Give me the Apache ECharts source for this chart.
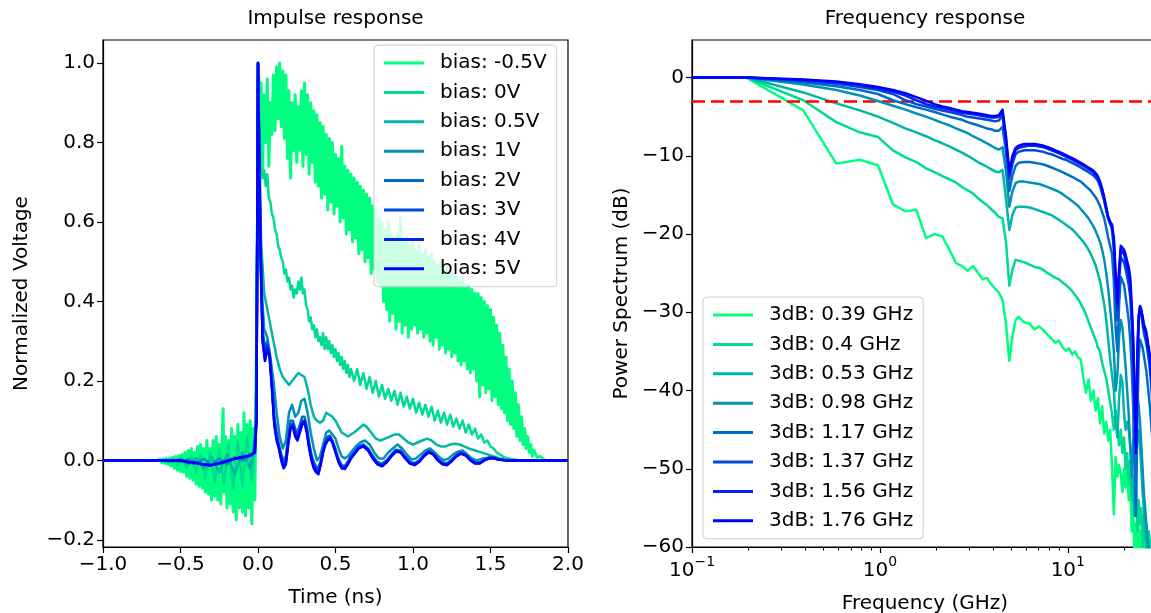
<!DOCTYPE html>
<html><head><meta charset="utf-8">
<script src="https://cdn.jsdelivr.net/npm/echarts@6/dist/echarts.min.js"></script>
<style>html,body{margin:0;padding:0;background:#fff}#c{width:1151px;height:613px}</style>
</head><body><div id="c"></div>
<script>
// ---------------- data ----------------
const panelTitles = ['Impulse response', 'Frequency response'];
const biasLabels = ['bias: -0.5V', 'bias: 0V', 'bias: 0.5V', 'bias: 1V', 'bias: 2V', 'bias: 3V', 'bias: 4V', 'bias: 5V'];
const bwLabels = ['3dB: 0.39 GHz', '3dB: 0.4 GHz', '3dB: 0.53 GHz', '3dB: 0.98 GHz', '3dB: 1.17 GHz', '3dB: 1.37 GHz', '3dB: 1.56 GHz', '3dB: 1.76 GHz'];
const timeTicks = [-1.0, -0.5, 0.0, 0.5, 1.0, 1.5, 2.0];
const voltTicks = [-0.2, 0.0, 0.2, 0.4, 0.6, 0.8, 1.0];
const dbTicks = [-60, -50, -40, -30, -20, -10, 0];
const freqMinorTicks = [0.2, 0.3, 0.4, 0.5, 0.6, 0.7, 0.8, 0.9, 2, 3, 4, 5, 6, 7, 8, 9, 20, 30];
const threshold = -3;

// impulse responses: [time (ns), normalized voltage]
const impM05 = [[-1.0,0],[-0.65,0],[-0.64,-0.004],[-0.63,0.003],[-0.62,-0.006],[-0.61,0.004],[-0.60,-0.008],[-0.59,0.005],[-0.58,-0.01],[-0.57,0.006],[-0.56,-0.014],[-0.55,0.008],[-0.54,-0.02],[-0.53,0.01],[-0.52,-0.025],[-0.51,0.012],[-0.50,-0.028],[-0.49,0.015],[-0.48,-0.03],[-0.47,0.02],[-0.46,-0.04],[-0.45,0.025],[-0.44,-0.045],[-0.43,0.03],[-0.42,-0.05],[-0.41,0.02],[-0.40,-0.06],[-0.39,0.035],[-0.38,-0.065],[-0.37,0.04],[-0.36,-0.07],[-0.35,0.03],[-0.34,-0.08],[-0.33,0.05],[-0.32,-0.085],[-0.31,0.03],[-0.30,-0.1],[-0.29,0.05],[-0.28,-0.09],[-0.27,0.06],[-0.26,-0.1],[-0.25,0.04],[-0.24,-0.11],[-0.23,0.07],[-0.225,0.13],[-0.22,-0.08],[-0.21,0.06],[-0.20,-0.12],[-0.19,0.05],[-0.18,-0.11],[-0.17,0.08],[-0.16,-0.13],[-0.15,0.06],[-0.14,-0.15],[-0.13,0.09],[-0.12,-0.12],[-0.11,0.07],[-0.10,-0.13],[-0.09,0.12],[-0.08,-0.14],[-0.07,0.09],[-0.06,-0.12],[-0.05,0.1],[-0.04,-0.16],[-0.03,0.08],[-0.02,-0.1],[-0.01,0.3],
[0.005,0.97],[0.01,0.80],[0.02,0.95],[0.03,0.73],[0.04,0.92],[0.05,0.80],[0.06,0.96],[0.07,0.74],[0.08,0.90],[0.09,0.82],[0.10,0.97],[0.11,0.83],[0.12,0.99],[0.13,0.86],[0.14,1.0],[0.15,0.84],[0.16,0.98],[0.17,0.81],[0.18,0.97],[0.19,0.76],[0.20,0.93],[0.21,0.71],[0.22,0.90],[0.23,0.78],[0.24,0.92],[0.25,0.75],[0.26,0.89],[0.27,0.78],[0.28,0.93],[0.29,0.74],[0.30,0.95],[0.31,0.77],[0.32,0.92],[0.33,0.72],[0.34,0.90],[0.35,0.75],[0.36,0.88],[0.37,0.70],[0.38,0.87],[0.39,0.69],[0.40,0.85],[0.41,0.66],[0.42,0.84],[0.43,0.67],[0.44,0.82],[0.45,0.63],[0.46,0.81],[0.47,0.65],[0.48,0.80],[0.49,0.62],[0.50,0.77],[0.51,0.64],[0.52,0.76],[0.53,0.60],[0.54,0.79],[0.55,0.61],[0.56,0.74],[0.57,0.57],[0.58,0.73],[0.59,0.58],[0.60,0.72],[0.61,0.55],[0.62,0.71],[0.63,0.56],[0.64,0.70],[0.65,0.52],[0.66,0.69],[0.67,0.53],[0.68,0.68],[0.69,0.50],[0.70,0.67],[0.71,0.51],[0.72,0.66],[0.73,0.47],[0.74,0.64],[0.75,0.48],[0.76,0.63],[0.77,0.45],[0.78,0.61],[0.79,0.44],[0.80,0.60],[0.81,0.40],[0.82,0.58],[0.83,0.38],[0.84,0.60],[0.85,0.35],[0.86,0.57],[0.87,0.37],[0.88,0.56],[0.89,0.33],[0.90,0.57],[0.91,0.35],[0.92,0.61],[0.93,0.32],[0.94,0.55],[0.95,0.34],[0.96,0.56],[0.97,0.31],[0.98,0.54],[0.99,0.33],[1.00,0.55],[1.01,0.34],[1.02,0.53],[1.03,0.32],[1.04,0.54],[1.05,0.33],[1.06,0.52],[1.07,0.31],[1.08,0.53],[1.09,0.32],[1.10,0.51],[1.11,0.30],[1.12,0.52],[1.13,0.29],[1.14,0.50],[1.15,0.31],[1.16,0.49],[1.17,0.28],[1.18,0.50],[1.19,0.29],[1.20,0.48],[1.21,0.27],[1.22,0.49],[1.23,0.28],[1.24,0.47],[1.25,0.26],[1.26,0.47],[1.27,0.27],[1.28,0.46],[1.29,0.25],[1.30,0.45],[1.31,0.24],[1.32,0.46],[1.33,0.25],[1.34,0.44],[1.35,0.23],[1.36,0.44],[1.37,0.22],[1.38,0.43],[1.39,0.23],[1.40,0.42],[1.41,0.20],[1.42,0.42],[1.43,0.16],[1.44,0.41],[1.45,0.19],[1.46,0.40],[1.47,0.17],[1.48,0.39],[1.49,0.18],[1.50,0.38],[1.51,0.15],[1.52,0.36],[1.53,0.16],[1.54,0.34],[1.55,0.14],[1.56,0.32],[1.57,0.13],[1.58,0.29],[1.59,0.12],[1.60,0.26],[1.61,0.10],[1.62,0.23],[1.63,0.09],[1.64,0.20],[1.65,0.08],[1.66,0.17],[1.67,0.06],[1.68,0.14],[1.69,0.05],[1.70,0.11],[1.71,0.04],[1.72,0.08],[1.73,0.03],[1.74,0.06],[1.75,0.02],[1.76,0.04],[1.77,0.01],[1.78,0.025],[1.80,0.008],[1.82,0.01],[1.85,0.0],[2.0,0.0]];
const imp0 = [[-1.0,0],[-0.62,0],[-0.58,-0.005],[-0.55,0.005],[-0.52,-0.012],[-0.49,0.006],[-0.46,-0.02],[-0.43,0.01],[-0.40,-0.03],[-0.37,0.015],[-0.34,-0.045],[-0.31,0.02],[-0.28,-0.055],[-0.25,0.03],[-0.22,-0.06],[-0.19,0.04],[-0.16,-0.07],[-0.13,0.05],[-0.10,-0.065],[-0.07,0.06],[-0.04,-0.05],[-0.02,0.04],[-0.01,0.2],[0.0,1.0],[0.01,0.82],[0.02,0.74],[0.03,0.71],[0.04,0.73],[0.05,0.69],[0.06,0.72],[0.07,0.66],[0.08,0.65],[0.09,0.62],[0.10,0.61],[0.11,0.58],[0.12,0.57],[0.13,0.54],[0.14,0.53],[0.15,0.51],[0.16,0.50],[0.17,0.47],[0.18,0.48],[0.19,0.45],[0.20,0.46],[0.21,0.43],[0.22,0.44],[0.23,0.41],[0.24,0.43],[0.25,0.42],[0.26,0.45],[0.27,0.43],[0.28,0.46],[0.29,0.42],[0.30,0.43],[0.31,0.39],[0.32,0.38],[0.33,0.35],[0.34,0.36],[0.35,0.33],[0.36,0.34],[0.37,0.31],[0.38,0.33],[0.39,0.30],[0.40,0.31],[0.41,0.29],[0.42,0.32],[0.43,0.28],[0.44,0.31],[0.45,0.28],[0.46,0.30],[0.47,0.27],[0.48,0.29],[0.49,0.26],[0.50,0.28],[0.51,0.25],[0.52,0.27],[0.53,0.24],[0.54,0.26],[0.55,0.23],[0.56,0.25],[0.57,0.22],[0.58,0.24],[0.59,0.21],[0.60,0.23],[0.62,0.20],[0.64,0.23],[0.66,0.19],[0.68,0.22],[0.70,0.18],[0.72,0.21],[0.74,0.17],[0.76,0.20],[0.78,0.16],[0.80,0.19],[0.82,0.155],[0.84,0.18],[0.86,0.15],[0.88,0.175],[0.90,0.14],[0.92,0.17],[0.94,0.135],[0.96,0.16],[0.98,0.13],[1.0,0.155],[1.02,0.12],[1.04,0.145],[1.06,0.115],[1.08,0.14],[1.10,0.11],[1.12,0.135],[1.14,0.10],[1.16,0.125],[1.18,0.095],[1.20,0.12],[1.22,0.09],[1.24,0.115],[1.26,0.085],[1.28,0.105],[1.30,0.08],[1.32,0.10],[1.34,0.07],[1.36,0.09],[1.38,0.065],[1.40,0.08],[1.42,0.055],[1.44,0.065],[1.46,0.045],[1.48,0.05],[1.50,0.035],[1.52,0.03],[1.54,0.02],[1.56,0.015],[1.58,0.01],[1.60,0.006],[1.65,0.002],[1.7,0],[2.0,0]];
const imp05 = [[-1,0],[-0.6,0],[-0.55,-0.004],[-0.5,0.004],[-0.45,-0.01],[-0.4,0.006],[-0.35,-0.02],[-0.3,0.01],[-0.25,-0.03],[-0.2,0.015],[-0.15,-0.035],[-0.1,0.02],[-0.05,-0.02],[-0.02,0.03],[-0.01,0.2],[0.0,1.0],[0.02,0.55],[0.04,0.42],[0.06,0.38],[0.08,0.34],[0.10,0.30],[0.12,0.26],[0.14,0.23],[0.16,0.21],[0.18,0.20],[0.20,0.19],[0.22,0.2],[0.24,0.21],[0.26,0.22],[0.28,0.215],[0.30,0.21],[0.32,0.18],[0.34,0.14],[0.36,0.11],[0.38,0.10],[0.40,0.095],[0.42,0.10],[0.44,0.12],[0.46,0.115],[0.48,0.11],[0.50,0.10],[0.52,0.085],[0.54,0.07],[0.56,0.065],[0.58,0.06],[0.60,0.065],[0.62,0.07],[0.65,0.08],[0.68,0.09],[0.70,0.085],[0.73,0.07],[0.76,0.055],[0.79,0.05],[0.82,0.055],[0.85,0.06],[0.88,0.065],[0.91,0.065],[0.94,0.055],[0.97,0.045],[1.0,0.04],[1.03,0.045],[1.06,0.05],[1.09,0.055],[1.12,0.05],[1.15,0.04],[1.18,0.035],[1.21,0.035],[1.24,0.04],[1.27,0.042],[1.30,0.04],[1.33,0.035],[1.36,0.03],[1.40,0.025],[1.44,0.02],[1.48,0.015],[1.52,0.01],[1.56,0.005],[1.6,0.002],[1.65,0],[2.0,0]];
const imp1 = [[-1,0],[-0.55,0],[-0.5,-0.003],[-0.45,0.003],[-0.4,-0.008],[-0.35,0.004],[-0.3,-0.012],[-0.25,0.005],[-0.2,-0.01],[-0.15,0.008],[-0.1,0.0],[-0.05,0.012],[-0.02,0.02],[-0.01,0.15],[0.0,1.0],[0.02,0.45],[0.04,0.33],[0.06,0.31],[0.08,0.26],[0.10,0.2],[0.12,0.12],[0.14,0.06],[0.16,0.03],[0.18,0.05],[0.20,0.12],[0.22,0.14],[0.24,0.11],[0.26,0.12],[0.28,0.15],[0.30,0.155],[0.32,0.12],[0.34,0.07],[0.36,0.03],[0.38,0.0],[0.40,0.01],[0.42,0.04],[0.44,0.07],[0.46,0.075],[0.48,0.065],[0.50,0.055],[0.52,0.03],[0.54,0.01],[0.56,0.005],[0.58,0.01],[0.60,0.02],[0.63,0.035],[0.66,0.045],[0.69,0.05],[0.72,0.04],[0.75,0.02],[0.78,0.005],[0.81,0.005],[0.84,0.02],[0.87,0.03],[0.90,0.04],[0.93,0.03],[0.96,0.015],[0.99,0.002],[1.02,0.005],[1.05,0.015],[1.08,0.025],[1.11,0.03],[1.14,0.02],[1.17,0.008],[1.2,0.0],[1.23,0.005],[1.26,0.015],[1.29,0.022],[1.32,0.025],[1.35,0.015],[1.38,0.005],[1.41,0.0],[1.45,0.005],[1.5,0.008],[1.55,0.003],[1.6,0],[2.0,0]];
const imp2 = [[-1,0],[-0.52,0],[-0.47,-0.004],[-0.42,-0.007],[-0.37,-0.01],[-0.32,-0.013],[-0.27,-0.009],[-0.22,-0.003],[-0.17,0.003],[-0.12,0.007],[-0.07,0.011],[-0.03,0.018],[-0.01,0.1],[0.0,1.0],[0.015,0.58],[0.03,0.33],[0.045,0.28],[0.06,0.3],[0.075,0.27],[0.09,0.2],[0.105,0.11],[0.12,0.07],[0.135,0.04],[0.15,0.015],[0.165,0.0],[0.18,0.01],[0.195,0.06],[0.21,0.1],[0.225,0.1],[0.24,0.08],[0.255,0.07],[0.27,0.09],[0.285,0.11],[0.30,0.11],[0.315,0.085],[0.33,0.045],[0.345,0.015],[0.36,-0.005],[0.375,-0.015],[0.39,-0.02],[0.405,0.0],[0.42,0.03],[0.435,0.05],[0.45,0.06],[0.465,0.062],[0.48,0.05],[0.50,0.028],[0.52,0.003],[0.54,-0.012],[0.56,-0.014],[0.58,-0.003],[0.60,0.012],[0.62,0.022],[0.65,0.036],[0.68,0.04],[0.71,0.03],[0.74,0.012],[0.77,-0.004],[0.80,-0.008],[0.83,0.0],[0.86,0.015],[0.89,0.027],[0.92,0.025],[0.95,0.01],[0.98,-0.003],[1.01,-0.007],[1.04,0.0],[1.07,0.014],[1.10,0.024],[1.13,0.02],[1.16,0.005],[1.19,-0.005],[1.22,-0.007],[1.25,0.002],[1.28,0.014],[1.31,0.021],[1.34,0.016],[1.37,0.004],[1.40,-0.004],[1.43,-0.005],[1.46,0.002],[1.49,0.007],[1.52,0.008],[1.55,0.003],[1.6,0],[2.0,0]];
const imp3 = [[-1,0],[-0.51,0],[-0.46,-0.004],[-0.41,-0.006],[-0.36,-0.01],[-0.31,-0.012],[-0.26,-0.008],[-0.21,-0.002],[-0.16,0.003],[-0.11,0.008],[-0.06,0.012],[-0.025,0.019],[-0.01,0.1],[0.0,1.0],[0.015,0.56],[0.03,0.31],[0.045,0.26],[0.06,0.29],[0.075,0.265],[0.09,0.19],[0.105,0.1],[0.12,0.06],[0.135,0.035],[0.15,0.008],[0.165,-0.01],[0.18,0.0],[0.195,0.05],[0.21,0.09],[0.225,0.092],[0.24,0.07],[0.255,0.06],[0.27,0.08],[0.285,0.1],[0.30,0.1],[0.315,0.078],[0.33,0.038],[0.345,0.008],[0.36,-0.012],[0.375,-0.022],[0.39,-0.027],[0.405,-0.005],[0.42,0.025],[0.435,0.045],[0.45,0.055],[0.465,0.058],[0.48,0.048],[0.50,0.024],[0.52,-0.001],[0.54,-0.016],[0.56,-0.018],[0.58,-0.006],[0.60,0.008],[0.62,0.018],[0.65,0.033],[0.68,0.038],[0.71,0.028],[0.74,0.008],[0.77,-0.007],[0.80,-0.012],[0.83,-0.003],[0.86,0.012],[0.89,0.024],[0.92,0.022],[0.95,0.007],[0.98,-0.006],[1.01,-0.01],[1.04,-0.002],[1.07,0.012],[1.10,0.022],[1.13,0.017],[1.16,0.002],[1.19,-0.008],[1.22,-0.01],[1.25,0.0],[1.28,0.012],[1.31,0.019],[1.34,0.014],[1.37,0.002],[1.40,-0.006],[1.43,-0.007],[1.46,0.001],[1.49,0.006],[1.52,0.007],[1.55,0.002],[1.6,0],[2.0,0]];
const imp4 = [[-1,0],[-0.5,0],[-0.45,-0.004],[-0.4,-0.006],[-0.35,-0.011],[-0.3,-0.012],[-0.25,-0.008],[-0.2,-0.002],[-0.15,0.004],[-0.1,0.008],[-0.05,0.012],[-0.02,0.02],[-0.01,0.1],[0.0,1.0],[0.015,0.55],[0.03,0.3],[0.045,0.255],[0.06,0.285],[0.075,0.262],[0.09,0.185],[0.105,0.095],[0.12,0.055],[0.135,0.032],[0.15,0.004],[0.165,-0.015],[0.18,-0.005],[0.195,0.045],[0.21,0.085],[0.225,0.088],[0.24,0.065],[0.255,0.055],[0.27,0.075],[0.285,0.095],[0.30,0.097],[0.315,0.074],[0.33,0.034],[0.345,0.004],[0.36,-0.016],[0.375,-0.026],[0.39,-0.031],[0.405,-0.008],[0.42,0.022],[0.435,0.042],[0.45,0.052],[0.465,0.056],[0.48,0.046],[0.50,0.022],[0.52,-0.003],[0.54,-0.018],[0.56,-0.02],[0.58,-0.008],[0.60,0.006],[0.62,0.016],[0.65,0.031],[0.68,0.036],[0.71,0.026],[0.74,0.006],[0.77,-0.009],[0.80,-0.014],[0.83,-0.004],[0.86,0.011],[0.89,0.023],[0.92,0.021],[0.95,0.006],[0.98,-0.007],[1.01,-0.011],[1.04,-0.003],[1.07,0.011],[1.10,0.021],[1.13,0.016],[1.16,0.001],[1.19,-0.009],[1.22,-0.011],[1.25,-0.001],[1.28,0.011],[1.31,0.018],[1.34,0.013],[1.37,0.001],[1.40,-0.007],[1.43,-0.007],[1.46,0.0],[1.49,0.005],[1.52,0.006],[1.55,0.002],[1.6,0],[2.0,0]];
const imp5 = [[-1,0],[-0.5,0],[-0.45,-0.004],[-0.4,-0.006],[-0.35,-0.01],[-0.3,-0.012],[-0.25,-0.008],[-0.2,-0.002],[-0.15,0.004],[-0.1,0.008],[-0.05,0.012],[-0.02,0.02],[-0.01,0.1],[0.0,1.0],[0.015,0.55],[0.03,0.3],[0.045,0.25],[0.06,0.28],[0.075,0.26],[0.09,0.18],[0.105,0.09],[0.12,0.05],[0.135,0.03],[0.15,0.0],[0.165,-0.02],[0.18,-0.01],[0.195,0.04],[0.21,0.08],[0.225,0.085],[0.24,0.06],[0.255,0.05],[0.27,0.07],[0.285,0.09],[0.30,0.095],[0.315,0.07],[0.33,0.03],[0.345,0.0],[0.36,-0.02],[0.375,-0.03],[0.39,-0.035],[0.405,-0.01],[0.42,0.02],[0.435,0.04],[0.45,0.05],[0.465,0.055],[0.48,0.045],[0.50,0.02],[0.52,-0.005],[0.54,-0.02],[0.56,-0.022],[0.58,-0.01],[0.60,0.005],[0.62,0.015],[0.65,0.03],[0.68,0.035],[0.71,0.025],[0.74,0.005],[0.77,-0.01],[0.80,-0.015],[0.83,-0.005],[0.86,0.01],[0.89,0.022],[0.92,0.02],[0.95,0.005],[0.98,-0.008],[1.01,-0.012],[1.04,-0.004],[1.07,0.01],[1.10,0.02],[1.13,0.015],[1.16,0.0],[1.19,-0.01],[1.22,-0.012],[1.25,-0.002],[1.28,0.01],[1.31,0.017],[1.34,0.012],[1.37,0.0],[1.40,-0.008],[1.43,-0.008],[1.46,0.0],[1.49,0.005],[1.52,0.006],[1.55,0.002],[1.6,0],[2.0,0]];

// frequency responses (dB) on a shared frequency grid (GHz)
const freqGHz = [0.1,0.195,0.391,0.586,0.781,0.977,1.172,1.367,1.563,1.758,1.953,2.148,2.344,2.539,2.734,2.93,3.125,3.32,3.516,3.711,3.906,4.102,4.297,4.492,4.688,4.883,5.078,5.273,5.469,5.859,6.25,6.641,7.031,7.422,7.813,8.203,8.594,8.984,9.375,9.766,10.16,10.55,10.94,11.33,11.72,12.11,12.5,12.89,13.28,13.67,14.06,14.45,14.84,15.23,15.63,16.02,16.41,16.8,17.19,17.58,17.97,18.36,18.75,19.14,19.53,19.92,20.31,20.7,21.09,21.48,21.88,22.27,22.66,23.05,23.44,23.83,24.22,24.61,25.0,25.39,25.78,26.17,26.56,26.95,27.34,27.73,28.13,28.52,28.91,29.3,29.69,30.08];
const db039 = [0,0,-4.2,-11.0,-10.5,-11.2,-16.2,-17.1,-16.9,-20.5, -20.0,-20.3,-22.0,-23.7,-24.1,-24.7,-24.1,-24.9,-25.8,-25.6, -26.4,-27.0,-27.5,-28.4,-31.5,-36.2,-33.0,-31.0,-30.6,-31.3, -31.4,-32.2,-31.8,-32.3,-32.9,-33.4,-33.9,-33.6,-34.5,-34.9, -34.6,-35.4,-35.0,-35.8,-36.0,-38.5,-40.3,-38.6,-41.3,-40.0, -42.6,-41.0,-44.2,-42.0,-45.5,-44.0,-46.4,-45.0,-49.8,-55.8, -48.5,-51.0,-49.5,-50.7,-53.0,-50.0,-52.4,-49.5,-54.0,-51.0, -58.0,-55.0,-62,-57.0,-61,-56,-63,-58,-60.5,-57, -62,-59,-64,-58,-61,-63,-59,-62,-65,-60,-63,-62];
const db040 = [0,0,-2.9,-5.7,-7.0,-7.6,-9.3,-10.2,-10.8,-11.6, -12.1,-12.6,-13.0,-13.4,-14.0,-14.4,-14.8,-15.4,-15.9,-16.3, -16.8,-17.3,-17.8,-18.0,-21.0,-26.6,-24.5,-23.3,-23.4,-23.6, -23.9,-24.2,-24.3,-24.6,-25.0,-25.3,-25.6,-25.8,-26.2,-26.5, -26.9,-27.3,-27.8,-28.3,-28.9,-29.6,-30.3,-31.2,-32.0,-32.8, -33.5,-34.5,-35.0,-36.5,-37.5,-38.5,-40.0,-41.5,-43.0,-45.0, -42.5,-44.5,-47,-45,-48,-46,-50,-48,-52,-49, -54,-51,-56,-52,-58,-54,-57,-55,-60,-56, -59,-57,-61,-58,-60,-62,-58,-61,-60,-63,-59,-61];
const db053 = [0,0,-1.9,-3.3,-4.2,-5.0,-5.8,-6.5,-7.0,-7.5, -8.0,-8.4,-8.8,-9.2,-9.6,-10.0,-10.4,-10.8,-11.1,-11.4, -11.7,-12.0,-12.1,-11.8,-15.5,-19.5,-17.5,-16.6,-16.5,-16.5, -16.6,-16.8,-17.0,-17.2,-17.4,-17.6,-17.9,-18.2,-18.5,-18.8, -19.1,-19.4,-19.8,-20.2,-20.6,-21.0,-21.5,-22.0,-22.6,-23.3, -24.0,-25.0,-26.0,-27.5,-29.0,-31.0,-33.5,-36.0,-38.0,-40.0, -44,-46,-41,-38,-39,-43,-45,-44,-45,-47, -50,-54,-56,-50,-46,-45,-47,-50,-53,-55, -58,-60,-62,-60,-61,-63,-62,-64,-63,-65,-64,-66];
const db098 = [0,0,-0.9,-1.6,-2.3,-3.0,-3.6,-4.1,-4.6,-5.0, -5.4,-5.8,-6.1,-6.5,-6.8,-7.1,-7.5,-7.8,-8.1,-8.4, -8.7,-9.0,-9.2,-8.9,-12.0,-16.5,-14.5,-13.5,-13.3,-13.3, -13.4,-13.5,-13.6,-13.8,-14.0,-14.2,-14.4,-14.6,-14.9,-15.2, -15.5,-15.8,-16.1,-16.4,-16.8,-17.2,-17.6,-18.0,-18.5,-19.0, -19.6,-20.3,-21.0,-22.0,-23.3,-25.0,-27.0,-29.5,-32.0,-35.0, -40,-38,-33,-31,-32,-34.5,-37,-40,-43,-47, -51,-47,-42,-40,-40.5,-42,-44,-47,-50,-53, -55,-57,-59,-60,-61,-62,-63,-64,-64,-65,-66,-66];
const db117 = [0,0,-0.6,-1.1,-1.6,-2.1,-2.9,-3.4,-3.8,-4.1, -4.4,-4.7,-5.0,-5.2,-5.4,-5.7,-5.9,-6.1,-6.3,-6.5, -6.6,-6.8,-6.8,-6.3,-9.5,-14.5,-12.5,-11.3,-10.9,-10.8, -10.8,-10.9,-11.0,-11.1,-11.3,-11.5,-11.7,-11.9,-12.1,-12.3, -12.5,-12.7,-12.9,-13.1,-13.3,-13.6,-13.9,-14.2,-14.5,-14.9, -15.3,-15.8,-16.4,-17.2,-18.0,-19.2,-20.5,-21.5,-22.5,-26, -32,-35,-29,-25.5,-25.5,-26.5,-28,-29.5,-31,-33.5, -37,-42,-50,-56,-44,-36,-33.5,-33.5,-34.5,-35.5, -36.5,-37.5,-39,-40.5,-42,-44,-46,-48,-50,-52,-54,-56];
const db137 = [0,0,-0.4,-0.8,-1.2,-1.6,-2.1,-2.9,-3.4,-3.7, -4.0,-4.2,-4.4,-4.6,-4.8,-5.0,-5.1,-5.2,-5.3,-5.4, -5.5,-5.6,-5.5,-4.8,-8.5,-13.0,-11.0,-9.8,-9.5,-9.3, -9.3,-9.3,-9.4,-9.5,-9.7,-9.8,-10.0,-10.2,-10.4,-10.5, -10.7,-10.9,-11.1,-11.3,-11.5,-11.7,-11.9,-12.1,-12.3,-12.5, -12.8,-13.2,-13.9,-14.8,-15.8,-17.0,-18.0,-18.7,-19.4,-22.0, -27.5,-31,-26,-23,-23,-23.6,-24.5,-25.5,-26.5,-28, -31.5,-36,-43,-46,-35,-30.5,-29.6,-30.2,-31.5,-32.6, -33.3,-34,-35,-36,-37.3,-39,-41,-43,-45,-47,-49,-51];
const db156 = [0,0,-0.3,-0.6,-1.0,-1.4,-1.8,-2.3,-2.9,-3.4, -3.7,-3.9,-4.1,-4.3,-4.5,-4.6,-4.7,-4.8,-4.9,-5.0, -5.1,-5.1,-5.0,-4.4,-8.0,-12.5,-10.5,-9.3,-9.0,-8.8, -8.7,-8.7,-8.8,-8.9,-9.1,-9.3,-9.5,-9.7,-9.9,-10.1, -10.3,-10.5,-10.7,-10.9,-11.1,-11.3,-11.5,-11.7,-11.9,-12.1, -12.4,-12.8,-13.5,-14.4,-15.5,-16.8,-18.0,-18.6,-19.0,-21.0, -26,-29.5,-25,-22,-22,-22.6,-23.4,-24.3,-25.2,-26.6, -30,-34,-41,-47,-36,-30.5,-29.2,-29.6,-30.8,-31.8, -32.4,-33,-34,-35,-36.2,-37.8,-39.8,-41.8,-43.8,-45.8,-47.8,-49.8];
const db176 = [0,0,-0.25,-0.5,-0.85,-1.2,-1.6,-2.0,-2.5,-2.95, -3.4,-3.7,-3.9,-4.1,-4.3,-4.4,-4.5,-4.6,-4.7,-4.8, -4.9,-4.9,-4.8,-4.1,-7.5,-12.0,-10.0,-9.0,-8.7,-8.5, -8.5,-8.5,-8.6,-8.7,-8.9,-9.1,-9.3,-9.5,-9.7,-9.9, -10.1,-10.3,-10.5,-10.7,-10.9,-11.1,-11.3,-11.5,-11.7,-11.9, -12.2,-12.6,-13.3,-14.2,-15.3,-16.6,-17.8,-18.4,-18.8,-20.5, -25,-28.8,-24.5,-21.5,-21.5,-22,-22.7,-23.5,-24.2,-25.5, -29,-33,-40,-48,-37,-31,-29.3,-29.5,-30.5,-31.5, -32,-32.5,-33.5,-34.5,-35.5,-37,-39,-41,-43,-45,-47,-49];

const impulseSeries = [impM05, imp0, imp05, imp1, imp2, imp3, imp4, imp5];
const spectrumSeries = [db039, db040, db053, db098, db117, db137, db156, db176];

// ---------------- style ----------------
const colors = ['#00ff80', '#00db92', '#00b6a4', '#0092b6', '#006dc8', '#0049db', '#0024ed', '#0000ff'];
const FONT = 'DejaVu Sans';
const FS = 20;
const minus = s => s.replace('-', '\u2212');
const fmt1 = v => minus((Math.abs(v) < 1e-9 ? 0 : v).toFixed(1));
const fmt0 = v => minus(String(Math.round(v)));
const logFmt = v => {
  const e = Math.log10(v), r = Math.round(e);
  if (Math.abs(e - r) > 1e-6) return '';
  return '{b|10}{s|' + (r < 0 ? '\u2212' : '') + Math.abs(r) + '}';
};
const axisCommon = {
  axisLine: { show: true, onZero: false, lineStyle: { color: '#000', width: 1.2 } },
  axisTick: { show: true, length: 6, lineStyle: { color: '#000', width: 1.2 } },
  splitLine: { show: false },
  nameTextStyle: { color: '#000', fontSize: FS, fontFamily: FONT },
};
const legendCommon = {
  orient: 'vertical', icon: 'rect', itemWidth: 40, itemHeight: 3, itemGap: 9.4,
  padding: [8, 10, 8, 10], backgroundColor: 'rgba(255,255,255,0.8)',
  borderColor: '#cccccc', borderWidth: 1, borderRadius: 4, selectedMode: false,
  textStyle: { color: '#000', fontSize: FS, fontFamily: FONT, lineHeight: 20, padding: [0, 0, 0, 11] },
};

const series = [];
impulseSeries.forEach((d, i) => series.push({
  name: biasLabels[i], type: 'line', xAxisIndex: 0, yAxisIndex: 0, data: d,
  showSymbol: false, symbol: 'none', color: colors[i],
  lineStyle: { width: i === 0 ? 3 : 2.5, color: colors[i], join: 'round' },
  emphasis: { disabled: true }, z: 2 + i
}));
spectrumSeries.forEach((d, i) => series.push({
  name: bwLabels[i], type: 'line', xAxisIndex: 1, yAxisIndex: 1,
  data: freqGHz.map((f, k) => [f, d[k]]),
  showSymbol: false, symbol: 'none', color: colors[i], lineStyle: { width: 2.5, color: colors[i], join: 'round' },
  emphasis: { disabled: true }, z: 2 + i,
  markLine: i === spectrumSeries.length - 1 ? {
    silent: true, symbol: 'none', label: { show: false },
    lineStyle: { color: '#ff0000', type: [13, 6], width: 2.5 },
    data: [{ yAxis: threshold }]
  } : undefined
}));

const option = {
  animation: false,
  backgroundColor: '#ffffff',
  textStyle: { fontFamily: FONT },
  graphic: [
    { type: 'text', x: 335.5, y: 19, style: { text: panelTitles[0], font: FS + 'px "' + FONT + '"', fill: '#000', align: 'center', textAlign: 'center', verticalAlign: 'middle', textVerticalAlign: 'middle' } },
    { type: 'text', x: 925, y: 19, style: { text: panelTitles[1], font: FS + 'px "' + FONT + '"', fill: '#000', align: 'center', textAlign: 'center', verticalAlign: 'middle', textVerticalAlign: 'middle' } },
  ],
  grid: [
    { left: 103, top: 40, width: 465, height: 507, show: true, borderColor: '#000', borderWidth: 1.2, backgroundColor: 'transparent', outerBoundsMode: 'none', containLabel: false },
    { left: 692, top: 40, width: 466, height: 507, show: true, borderColor: '#000', borderWidth: 1.2, backgroundColor: 'transparent', outerBoundsMode: 'none', containLabel: false },
  ],
  xAxis: [
    Object.assign({}, axisCommon, {
      gridIndex: 0, type: 'value', min: timeTicks[0], max: timeTicks[timeTicks.length - 1], interval: 0.5,
      axisLabel: { color: '#000', fontSize: FS, fontFamily: FONT, margin: 8, formatter: fmt1 },
      name: 'Time (ns)', nameLocation: 'middle', nameGap: 41,
    }),
    Object.assign({}, axisCommon, {
      gridIndex: 1, type: 'log', logBase: 10, min: 0.1, max: 30.2, position: 'bottom',
      axisLabel: { color: '#000', margin: 8, formatter: logFmt,
        rich: { b: { fontSize: FS, fontFamily: FONT, color: '#000', lineHeight: 26, verticalAlign: 'bottom' },
                s: { fontSize: 14, fontFamily: FONT, color: '#000', lineHeight: 14, verticalAlign: 'top' } } },
      name: 'Frequency (GHz)', nameLocation: 'middle', nameGap: 47,
    }),
    {
      gridIndex: 1, type: 'log', logBase: 10, min: 0.1, max: 30.2, position: 'bottom',
      axisLine: { show: false, onZero: false }, splitLine: { show: false }, axisLabel: { show: false },
      axisTick: { show: true, length: 3.5, customValues: freqMinorTicks, lineStyle: { color: '#000', width: 1 } },
    },
  ],
  yAxis: [
    Object.assign({}, axisCommon, {
      gridIndex: 0, type: 'value', min: -0.218, max: 1.058,
      axisTick: { show: true, length: 6, customValues: voltTicks, lineStyle: { color: '#000', width: 1.2 } },
      axisLabel: { color: '#000', fontSize: FS, fontFamily: FONT, margin: 8, customValues: voltTicks, formatter: fmt1 },
      name: 'Normalized Voltage', nameLocation: 'middle', nameGap: 71,
    }),
    Object.assign({}, axisCommon, {
      gridIndex: 1, type: 'value', min: -60, max: 4.8,
      axisTick: { show: true, length: 6, customValues: dbTicks, lineStyle: { color: '#000', width: 1.2 } },
      axisLabel: { color: '#000', fontSize: FS, fontFamily: FONT, margin: 8, customValues: dbTicks, formatter: fmt0 },
      name: 'Power Spectrum (dB)', nameLocation: 'middle', nameGap: 60,
    }),
  ],
  legend: [
    Object.assign({}, legendCommon, { left: 374, top: 45, data: biasLabels }),
    Object.assign({}, legendCommon, { left: 703, top: 297, data: bwLabels }),
  ],
  series: series,
};

const chart = echarts.init(document.getElementById('c'), null, { renderer: 'canvas' });
chart.setOption(option);
</script>
</body></html>
